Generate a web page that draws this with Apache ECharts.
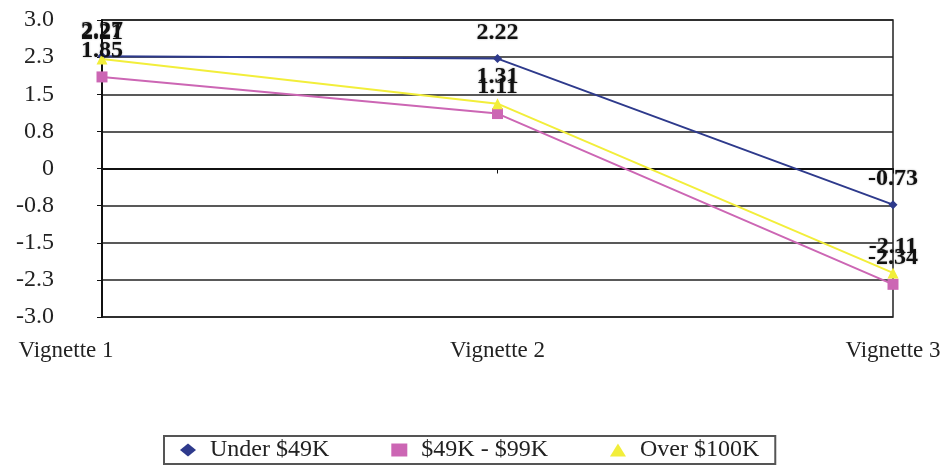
<!DOCTYPE html>
<html>
<head>
<meta charset="utf-8">
<script src="https://cdn.jsdelivr.net/npm/echarts@6/dist/echarts.min.js"></script>
<style>html,body{margin:0;padding:0;background:#fff;}#c{width:948px;height:470px;}</style>
</head>
<body>
<div id="c"></div>
<script>
var categories = ['Vignette 1', 'Vignette 2', 'Vignette 3'];
var seriesNames = ['Under $49K', '$49K - $99K', 'Over $100K'];
var under49 = [2.27, 2.22, -0.73];
var mid49to99 = [1.85, 1.11, -2.34];
var over100 = [2.21, 1.31, -2.11];
var yMin = -3, yMax = 3, yStep = 0.75;

var font = '"Liberation Serif", "DejaVu Serif", serif';
var labelStyle = {
  show: true, position: 'top', distance: 9,
  fontFamily: font, fontWeight: 'bold', fontSize: 24, color: '#111',
  textShadowColor: 'rgba(0,0,0,0.35)', textShadowBlur: 2,
  formatter: function (p) { return p.value.toFixed(2); }
};
function mk(name, data, color, symbol, size) {
  return {
    name: name, type: 'line', data: data,
    symbol: symbol, symbolSize: size,
    lineStyle: { color: color, width: 2 },
    itemStyle: { color: color },
    label: labelStyle,
    animation: false
  };
}
var chart = echarts.init(document.getElementById('c'), null, { renderer: 'canvas' });
chart.setOption({
  animation: false,
  backgroundColor: '#fff',
  grid: { left: 102, right: 55, top: 20, bottom: 153, show: true, borderColor: '#222', borderWidth: 1.5, backgroundColor: '#fff' },
  xAxis: {
    type: 'category', data: categories, boundaryGap: false,
    axisLine: { lineStyle: { color: '#111', width: 2 } },
    axisTick: { show: true, length: 5, lineStyle: { color: '#111' } },
    axisLabel: {
      fontFamily: font, fontSize: 23, color: '#222', margin: 22,
      formatter: function (v, i) { return i === 0 ? '{a|' + v + '}{s| }' : v; },
      rich: { a: { fontFamily: font, fontSize: 23, color: '#222' }, s: { width: 72, fontSize: 23 } }
    },
    splitLine: { show: false }
  },
  yAxis: {
    type: 'value', min: yMin, max: yMax, interval: yStep,
    axisLine: { show: true, lineStyle: { color: '#111', width: 2 } },
    axisTick: { show: true, length: 5, lineStyle: { color: '#111' } },
    axisLabel: {
      fontFamily: font, fontSize: 24, color: '#222', margin: 48,
      formatter: function (v) { return Math.abs(v) < 1e-9 ? '0' : v.toFixed(1); }
    },
    splitLine: { show: true, lineStyle: { color: '#222', width: 1.5 } }
  },
  legend: {
    top: 436, left: 164,
    backgroundColor: '#fff', borderColor: '#555', borderWidth: 2, borderRadius: 0,
    padding: [2, 16, 2, 16], itemGap: 62, itemWidth: 16, itemHeight: 13,
    textStyle: { fontFamily: font, fontSize: 24, color: '#222', padding: [0, 0, 0, 9] },
    data: [
      { name: seriesNames[0], icon: 'diamond' },
      { name: seriesNames[1], icon: 'rect' },
      { name: seriesNames[2], icon: 'triangle' }
    ]
  },
  series: [
    mk(seriesNames[0], under49, '#2e3a8c', 'diamond', 9),
    mk(seriesNames[1], mid49to99, '#cc66b4', 'rect', 11),
    mk(seriesNames[2], over100, '#f2ee3a', 'triangle', 11)
  ]
});
</script>
</body>
</html>
